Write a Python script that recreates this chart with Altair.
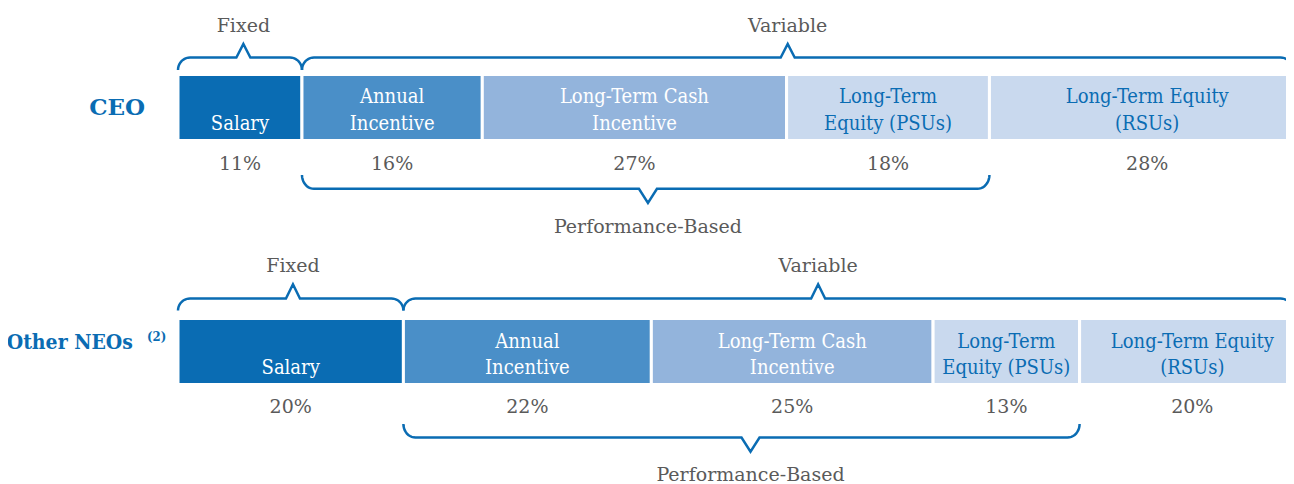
import math
import altair as alt
import pandas as pd

# ---------------- data ----------------
rows = ["CEO", "Other NEOs"]
components = ["Salary", "Annual Incentive", "Long-Term Cash Incentive",
              "Long-Term Equity (PSUs)", "Long-Term Equity (RSUs)"]
label_line1 = ["", "Annual", "Long-Term Cash", "Long-Term", "Long-Term Equity"]
label_line2 = ["Salary", "Incentive", "Incentive", "Equity (PSUs)", "(RSUs)"]
ceo_pct = [11, 16, 27, 18, 28]
neo_pct = [20, 22, 25, 13, 20]
bracket_names = ["Fixed", "Variable", "Performance-Based"]
ceo_peaks = [5.8, 54.1, 41.7]      # where each brace points (% of pay)
neo_peaks = [10.2, 56.8, 50.8]
variable_end = [98.9, 98.9]

# ---------------- styles ----------------
fill_colors = ["#0a6cb3", "#4a8fc8", "#93b4dc", "#c9d9ee", "#c9d9ee"]
text_colors = ["#ffffff", "#ffffff", "#ffffff", "#0a6cb3", "#0a6cb3"]
BLUE = "#0a6cb3"
GREY = "#5a5a5a"
SERIF = "DejaVu Serif"
SERIF_C = "DejaVu Serif Condensed"

W, H = 1278, 476
PX = 11.27                      # pixels per percentage point
X0 = -170 / PX
XDOM = [X0, X0 + W / PX]
YDOM = [484, 8]

# vertical layout of each row (pixel units)
LAY = {
    "CEO": dict(top_text=26, top_peak=44, top_line=57.5, top_end=70,
                bar_top=74.5, bar_bot=140.5, l1=97, l2=124, pct=164,
                bot_end=175, bot_line=188.8, bot_peak=203, bot_text=226.5),
    "Other NEOs": dict(top_text=266, top_peak=284.3, top_line=298.5, top_end=310.5,
                       bar_top=318.5, bar_bot=384.5, l1=342, l2=368, pct=407,
                       bot_end=424, bot_line=437.5, bot_peak=451.7, bot_text=475),
}

values = {"CEO": ceo_pct, "Other NEOs": neo_pct}
peaks = {"CEO": ceo_peaks, "Other NEOs": neo_peaks}
vend = {"CEO": variable_end[0], "Other NEOs": variable_end[1]}

bars, lines, pcts, blabels, braces = [], [], [], [], []
for r in rows:
    L = LAY[r]
    start = 0
    cum = []
    for i, v in enumerate(values[r]):
        end = start + v
        cum.append(end)
        mid = (start + end) / 2
        bars.append(dict(row=r, comp=components[i], x=start, x2=end,
                         y=L["bar_top"], y2=L["bar_bot"], fill=fill_colors[i]))
        if label_line1[i]:
            lines.append(dict(x=mid, y=L["l1"], t=label_line1[i], c=text_colors[i]))
        lines.append(dict(x=mid, y=L["l2"], t=label_line2[i], c=text_colors[i]))
        pcts.append(dict(x=mid, y=L["pct"], t=f"{v}%"))
        start = end

    spans = [(0, cum[0]), (cum[0], vend[r]), (cum[0], cum[3])]
    for j, name in enumerate(bracket_names):
        xs, xe = spans[j]
        xp = peaks[r][j]
        if j < 2:
            yl, ye, yp, yt, hw = L["top_line"], L["top_end"], L["top_peak"], L["top_text"], 7
        else:
            yl, ye, yp, yt, hw = L["bot_line"], L["bot_end"], L["bot_peak"], L["bot_text"], 9
        blabels.append(dict(x=xp, y=yt, t=name))
        rx = 12 / PX
        ry = ye - yl
        pts = []
        N = 10
        for k in range(N + 1):
            a = k / N * math.pi / 2
            pts.append((xs + rx - rx * math.cos(a), ye - ry * math.sin(a)))
        h = hw / PX
        pts += [(xp - h, yl), (xp, yp), (xp + h, yl)]
        for k in range(N + 1):
            a = k / N * math.pi / 2
            pts.append((xe - rx + rx * math.sin(a), ye - ry * math.cos(a)))
        for o, (px_, py_) in enumerate(pts):
            braces.append(dict(id=f"{r}-{name}", o=o, x=px_, y=py_))

xs_ = alt.Scale(domain=XDOM)
ys_ = alt.Scale(domain=YDOM)


def X(f="x"):
    return alt.X(f"{f}:Q", scale=xs_, axis=None)


def Y(f="y"):
    return alt.Y(f"{f}:Q", scale=ys_, axis=None)


bar_layer = alt.Chart(pd.DataFrame(bars)).mark_rect(stroke="white", strokeWidth=3).encode(
    x=X(), x2="x2:Q", y=Y(), y2="y2:Q", fill=alt.Fill("fill:N", scale=None))

line_layer = alt.Chart(pd.DataFrame(lines)).mark_text(
    font=SERIF_C, fontSize=20, baseline="middle", align="center").encode(
    x=X(), y=Y(), text="t:N", color=alt.Color("c:N", scale=None))

pct_layer = alt.Chart(pd.DataFrame(pcts)).mark_text(
    font=SERIF, fontSize=19, color=GREY, baseline="middle", align="center").encode(
    x=X(), y=Y(), text="t:N")

blabel_layer = alt.Chart(pd.DataFrame(blabels)).mark_text(
    font=SERIF, fontSize=19, color=GREY, baseline="middle", align="center").encode(
    x=X(), y=Y(), text="t:N")

brace_layer = alt.Chart(pd.DataFrame(braces)).mark_line(
    color=BLUE, strokeWidth=2.5, strokeJoin="miter", clip=False).encode(
    x=X(), y=Y(), detail="id:N", order="o:Q")

row_df = pd.DataFrame({"row": rows})
ceo_label = alt.Chart(row_df).transform_filter(alt.datum.row == "CEO").mark_text(
    font=SERIF, fontWeight="bold", fontSize=23, color=BLUE, align="center", baseline="middle").encode(
    x=alt.datum(-5.4, scale=xs_), y=alt.datum(107.5, scale=ys_), text="row:N")
neo_label = alt.Chart(row_df).transform_filter(alt.datum.row == "Other NEOs").mark_text(
    font=SERIF_C, fontWeight="bold", fontSize=21, color=BLUE, align="right", baseline="middle").encode(
    x=alt.datum(-4.0, scale=xs_), y=alt.datum(342.5, scale=ys_), text="row:N")
sup_label = alt.Chart(row_df).transform_filter(alt.datum.row == "Other NEOs").mark_text(
    text="(2)", font=SERIF_C, fontWeight="bold", fontSize=13, color=BLUE, align="left", baseline="middle").encode(
    x=alt.datum(-2.75, scale=xs_), y=alt.datum(337, scale=ys_))

chart = alt.layer(bar_layer, brace_layer, line_layer, pct_layer, blabel_layer,
                  ceo_label, neo_label, sup_label).properties(
    width=W, height=H, padding=0, autosize="none",
).configure_view(stroke=None)

chart.save("out.html", embed_options={"renderer": "svg", "actions": False})
